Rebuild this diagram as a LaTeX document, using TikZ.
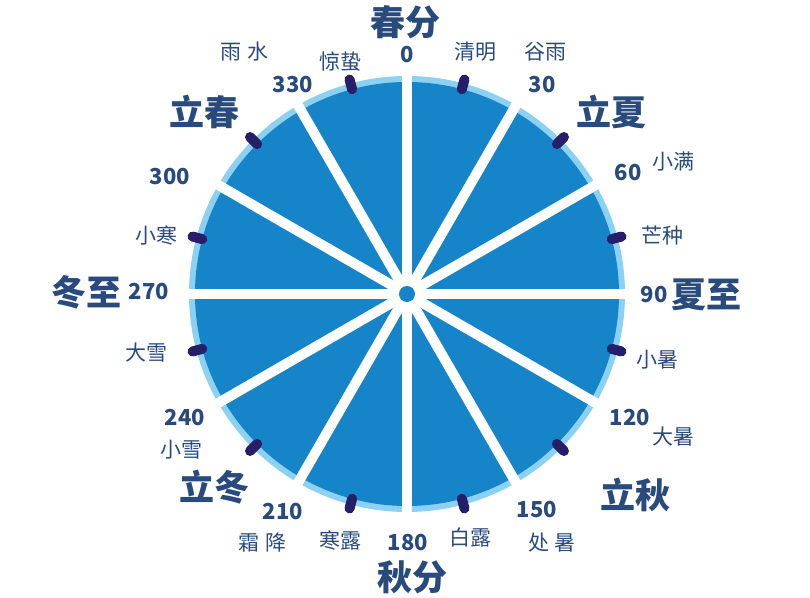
\documentclass[tikz,border=0pt]{standalone}
\usepackage{fontspec}
\setmainfont{Noto Sans CJK SC}
\usetikzlibrary{calc}

\definecolor{wheelblue}{RGB}{22,132,200}
\definecolor{rimblue}{RGB}{140,208,242}
\definecolor{labelblue}{RGB}{40,74,124}
\definecolor{markpurple}{RGB}{38,30,105}

\begin{document}
\begin{tikzpicture}[
    x=1pt, y=1pt,
    % Styles
    big_label/.style={font=\fontsize{35}{35}\selectfont\bfseries, text=labelblue, inner sep=0pt},
    num_label/.style={font=\fontsize{22}{22}\selectfont\bfseries, text=labelblue, inner sep=0pt},
    term_label/.style={font=\fontsize{21}{21}\selectfont, text=labelblue, inner sep=0pt},
    spoke/.style={white, line width=10pt},
    term_mark/.style={markpurple, line width=10pt, line cap=round}
]
\useasboundingbox (-407,-303) rectangle (403,294);

% 1. Wheel with rim
\fill[rimblue] (0,0) circle (218);
\fill[wheelblue] (0,0) circle (212);

% 2. Spokes every 30 degrees (0 at top, clockwise)
\foreach \a in {0,30,...,330} {
    \draw[spoke] (0,0) -- (90-\a:224);
}
\fill[white] (0,0) circle (18);
\fill[wheelblue] (0,0) circle (8);

% 3. Marks of the solar terms in between
\foreach \a in {15,45,...,345} {
    \draw[term_mark] (90-\a:212) -- (90-\a:222);
}

% 4. Equinoxes and solstices, start of seasons
\node[big_label] (lbl_chunfen) at (-2,272) {春分};
\node[big_label] (lbl_qiufen) at (5,-283) {秋分};
\node[big_label] (lbl_dongzhi) at (-320,2) {冬至};
\node[big_label] (lbl_xiazhi) at (299,-1) {夏至};
\node[big_label] (lbl_lichun) at (-202,182) {立春};
\node[big_label] (lbl_lixia) at (204,182) {立夏};
\node[big_label] (lbl_liqiu) at (228,-201) {立秋};
\node[big_label] (lbl_lidong) at (-192,-193) {立冬};

% 5. Degrees
\foreach \name/\x/\y/\deg in {n0/0/239/0, n30/135/209/30, n60/221/121/60,
    n90/247/-1/90, n120/223/-124/120, n150/130/-216/150, n180/1/-249/180,
    n210/-124/-218/210, n240/-222/-124/240, n270/-258/2/270,
    n300/-237/117/300, n330/-114/209/330} {
    \node[num_label] (\name) at (\x,\y) {\deg};
}

% 6. Other solar terms
\foreach \name/\x/\y/\txt in {yushui/-162/242/雨\hspace{6pt}水, jingzhe/-67/232/惊蛰,
    qingming/68/242/清明, guyu/138/242/谷雨, xiaoman/266/132/小满,
    mangzhong/255/59/芒种, xiaoshu/250/-66/小暑, dashu/266/-143/大暑,
    chushu/145/-249/处\hspace{6pt}暑, bailu/63/-243/白露, hanlu/-67/-246/寒露,
    shuangjiang/-144/-249/霜\hspace{6pt}降, xiaoxue/-225/-156/小雪,
    daxue/-260/-59/大雪, xiaohan/-250/59/小寒} {
    \node[term_label] (lbl_\name) at (\x,\y) {\txt};
}

\end{tikzpicture}
\end{document}
